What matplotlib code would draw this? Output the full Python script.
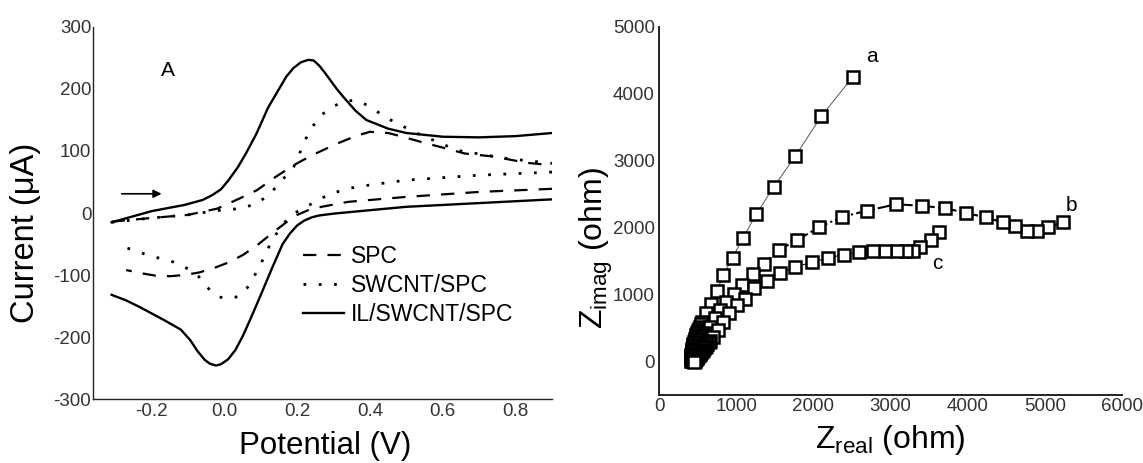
import numpy as np
import matplotlib
matplotlib.use('Agg')
import matplotlib.pyplot as plt

plt.rcParams['font.family'] = ['Liberation Sans', 'DejaVu Sans']
plt.rcParams['mathtext.fontset'] = 'custom'
plt.rcParams['mathtext.rm'] = 'Liberation Sans'
plt.rcParams['axes.unicode_minus'] = False

# --- Painel A: voltametria ciclica ---
# SPC (tracejado)
e_spc_ida = [-0.31, -0.2, -0.1, -0.02, 0.04, 0.09, 0.14, 0.19, 0.24, 0.31, 0.36, 0.40, 0.45, 0.49, 0.55, 0.59, 0.66, 0.74, 0.83, 0.9]
i_spc_ida = [-14, -8, -3, 7, 23, 37, 58, 77, 93, 112, 124, 131, 129, 123, 113, 107, 96, 91, 81, 77]
e_spc_volta = [0.9, 0.7, 0.5, 0.34, 0.24, 0.2, 0.17, 0.13, 0.09, 0.05, 0.01, -0.03, -0.07, -0.11, -0.15, -0.19, -0.23, -0.27]
i_spc_volta = [39, 34, 26, 18, 7, -3, -15, -33, -52, -68, -80, -89, -96, -100, -102, -101, -97, -92]

# SWCNT/SPC (pontilhado)
e_swcnt_ida = [-0.31, -0.2, -0.1, -0.02, 0.04, 0.09, 0.13, 0.19, 0.23, 0.26, 0.295, 0.33, 0.36, 0.4, 0.44, 0.52, 0.64, 0.775, 0.9]
i_swcnt_ida = [-15, -8, -3, 4, 7, 15, 34, 74, 128, 155, 171, 180, 182, 172, 155, 131, 101, 88, 80]
e_swcnt_volta = [0.9, 0.7, 0.5, 0.36, 0.29, 0.24, 0.19, 0.16, 0.13, 0.1, 0.07, 0.05, 0.03, 0.01, -0.01, -0.03, -0.05, -0.07, -0.1, -0.14, -0.21, -0.29]
i_swcnt_volta = [66, 61, 53, 42, 31, 15, -1, -18, -45, -82, -115, -130, -136, -138, -136, -130, -118, -103, -90, -79, -68, -52]

# IL/SWCNT/SPC (continuo)
e_il_ida = [-0.31, -0.2, -0.11, -0.06, -0.033, -0.01, 0.01, 0.037, 0.06, 0.088, 0.12, 0.15, 0.17, 0.19, 0.21,
            0.23, 0.245, 0.26, 0.275, 0.29, 0.31, 0.33, 0.36, 0.39, 0.45, 0.5, 0.6, 0.7, 0.8, 0.9]
i_il_ida = [-15, 3, 13, 21, 29, 38, 52, 74, 97, 128, 170, 200, 220, 234, 243,
            247, 246, 238, 227, 215, 199, 185, 165, 150, 136, 129, 123, 122, 124, 129]
e_il_volta = [0.9, 0.7, 0.5, 0.39, 0.3, 0.26, 0.24, 0.22, 0.2, 0.18, 0.16, 0.13, 0.1, 0.07, 0.05, 0.03, 0.01,
              -0.01, -0.023, -0.04, -0.054, -0.075, -0.094, -0.12, -0.165, -0.2, -0.235, -0.27, -0.31]
i_il_volta = [22, 16, 10, 4, -1, -4, -7, -12, -20, -33, -50, -90, -132, -173, -199, -221, -236,
              -244, -246, -243, -237, -222, -205, -188, -173, -162, -151, -141, -132]

legendas_cv = ['SPC', 'SWCNT/SPC', 'IL/SWCNT/SPC']
ticks_x_cv = [-0.2, 0.0, 0.2, 0.4, 0.6, 0.8]
ticks_y_cv = [-300, -200, -100, 0, 100, 200, 300]

# --- Painel B: Nyquist ---
zr_a = [2512, 2101, 1765, 1485, 1260, 1088, 952, 831, 747, 677, 607,
        560, 545, 530, 517, 505, 495, 485, 476, 468, 460, 452, 446, 440, 435, 430, 426, 422, 418, 415, 412, 410, 408]
zi_a = [4257, 3663, 3069, 2609, 2203, 1847, 1550, 1287, 1050, 866, 718,
        594, 557, 520, 488, 455, 425, 395, 368, 340, 312, 285, 258, 230, 205, 180, 155, 130, 105, 80, 58, 35, 15]

zr_b = [5229, 5042, 4893, 4762, 4613, 4458, 4234, 3973, 3702, 3408, 3072, 2689, 2372, 2073, 1788, 1555, 1354,
        1214, 1074, 966, 864, 794, 724, 663,
        607, 591, 575, 560, 545, 532, 520, 510, 500, 491, 482, 475, 468, 461, 455, 449, 443, 438, 433, 429, 425]
zi_b = [2079, 2005, 1955, 1955, 2030, 2079, 2153, 2223, 2292, 2327, 2351, 2252, 2163, 2005, 1817, 1668, 1460,
        1302, 1139, 1015, 891, 767, 644, 520,
        421, 392, 365, 340, 315, 292, 270, 250, 228, 208, 188, 170, 150, 130, 112, 95, 78, 60, 45, 30, 15]

zr_c = [3632, 3525, 3385, 3291, 3198, 3081, 2932, 2778, 2591, 2395, 2194, 1984, 1760, 1573, 1401, 1228, 1120,
        1013, 910, 831, 761, 700,
        660, 642, 625, 610, 595, 581, 568, 556, 545, 535, 525, 515, 505, 496, 488, 480, 472, 466, 460, 455, 450]
zi_c = [1931, 1817, 1718, 1658, 1649, 1649, 1649, 1649, 1634, 1599, 1550, 1485, 1411, 1327, 1198, 1094, 941,
        842, 718, 594, 470, 371,
        310, 285, 260, 237, 215, 195, 175, 157, 140, 124, 108, 94, 80, 67, 55, 43, 32, 23, 14, 7, 0]

ticks_x_eis = [0, 1000, 2000, 3000, 4000, 5000, 6000]
ticks_y_eis = [0, 1000, 2000, 3000, 4000, 5000]

fig = plt.figure(figsize=(11.43, 4.63), dpi=100)
ax1 = fig.add_axes([0.0811, 0.1382, 0.4018, 0.8035])
ax2 = fig.add_axes([0.5766, 0.1469, 0.4051, 0.7948])

cor_tick = '#333333'

# Painel A
estilos = [(0, (6, 5)), (0, (1, 4.5)), '-']
larguras = [1.6, 2.0, 1.7]
dados = [(e_spc_ida, i_spc_ida, e_spc_volta, i_spc_volta),
         (e_swcnt_ida, i_swcnt_ida, e_swcnt_volta, i_swcnt_volta),
         (e_il_ida, i_il_ida, e_il_volta, i_il_volta)]
linhas = []
for (ei, ii, ev, iv), ls, lw, lab in zip(dados, estilos, larguras, legendas_cv):
    l, = ax1.plot(ei, ii, color='black', linestyle=ls, linewidth=lw, label=lab)
    ax1.plot(ev, iv, color='black', linestyle=ls, linewidth=lw)
    linhas.append(l)

ax1.set_xlim(-0.362, 0.9)
ax1.set_ylim(-300, 300)
ax1.set_xticks(ticks_x_cv)
ax1.set_xticklabels(['%.1f' % t for t in ticks_x_cv])
ax1.set_yticks(ticks_y_cv)
ax1.tick_params(length=0, labelsize=13.5, labelcolor=cor_tick)
ax1.tick_params(axis='y', pad=1)
ax1.tick_params(axis='x', pad=3)
for s in ['top', 'right']:
    ax1.spines[s].set_visible(False)
for s in ['left', 'bottom']:
    ax1.spines[s].set_linewidth(1.0)
    ax1.spines[s].set_color('#222222')

ax1.set_xlabel('Potential (V)', fontsize=22.5)
ax1.set_ylabel('Current (\u03bcA)', fontsize=23.5)
ax1.xaxis.set_label_coords(0.506, -0.085)
ax1.yaxis.set_label_coords(-0.113, 0.446)

ax1.text(-0.155, 230, 'A', fontsize=15, ha='center', va='center')
ax1.annotate('', xy=(-0.165, 31), xytext=(-0.29, 31),
             arrowprops=dict(arrowstyle='-|>', color='black', lw=1.2, mutation_scale=12))

ax1.legend(handles=linhas, loc='upper left', bbox_to_anchor=(0.458, 0.415), frameon=False,
           fontsize=16.5, handlelength=1.8, handletextpad=0.3, labelspacing=0.28,
           borderpad=0, borderaxespad=0)

# Painel B
estilo_marc = dict(marker='s', markersize=8.5, markerfacecolor='white',
                   markeredgecolor='black', markeredgewidth=1.8)
ax2.plot(zr_a, zi_a, color='#555555', linewidth=0.7, **estilo_marc)
ax2.plot(zr_b, zi_b, color='black', linewidth=1.5, linestyle='-.', **estilo_marc)
ax2.plot(zr_c, zi_c, color='black', linewidth=0.7, **estilo_marc)

ax2.text(2754, 4554, 'a', fontsize=15, ha='center', va='center')
ax2.text(5345, 2327, 'b', fontsize=15, ha='center', va='center')
ax2.text(3609, 1460, 'c', fontsize=15, ha='center', va='center')

ax2.set_xlim(0, 6000)
ax2.set_ylim(-500, 5000)
ax2.set_xticks(ticks_x_eis)
ax2.set_yticks(ticks_y_eis)
ax2.tick_params(length=0, labelsize=13.5, labelcolor=cor_tick)
ax2.tick_params(axis='y', pad=3)
ax2.tick_params(axis='x', pad=2)
for s in ['top', 'right']:
    ax2.spines[s].set_visible(False)
for s in ['left', 'bottom']:
    ax2.spines[s].set_linewidth(1.4)
    ax2.spines[s].set_color('#222222')

ax2.set_xlabel(r'$\mathregular{Z_{real}}$ (ohm)', fontsize=23)
ax2.set_ylabel(r'$\mathregular{Z_{imag}}$ (ohm)', fontsize=23)
ax2.xaxis.set_label_coords(0.5, -0.075)
ax2.yaxis.set_label_coords(-0.095, 0.40)

fig.savefig('out.png', dpi=100, facecolor='white')
